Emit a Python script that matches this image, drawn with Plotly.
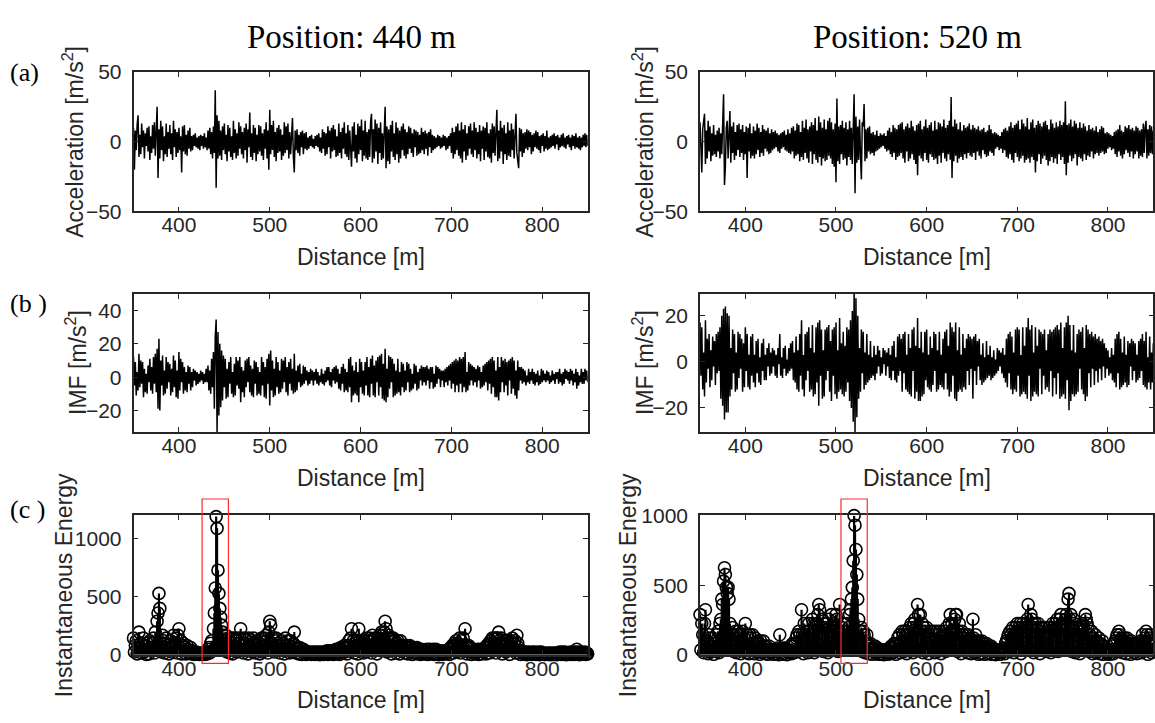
import numpy as np
import plotly.graph_objects as go
from plotly.subplots import make_subplots

# ---------------------------------------------------------------- data
positions = [440, 520]                       # inspected positions [m]
x_m = np.arange(350, 851, 1)                 # sample distance [m]

acc_440 = [
    10, -20, 8, -6, 12, 19, -11, 5, -9, 13, -4, 8, -12, 6, -3, 10, -7, 11, -13, 4,
    -8, 12, -5, 14, -10, 7, 25, -26, 9, -12, 15, -6, 11, -14, 4, -9, 13, -11, 7, -5,
    12, -9, 6, -13, 15, -4, 9, -11, 7, -8, 10, -6, 4, -22, 11, -7, 12, -9, 5, -10,
    8, -5, 10, -7, 4, -6, 5, -3, 6, -4, 3, -5, 4, -6, 5, -3, 4, -5, 6, -4,
    3, -6, 8, -5, 10, -9, 7, -12, 11, -8, 37, -33, 19, -12, 15, -10, 8, -13, 11, -6,
    13, -9, 5, -14, 12, -7, 10, -11, 4, -13, 15, -8, 9, -12, 6, -10, 14, -5, 11, -9,
    7, -12, 10, -6, 13, -15, 9, -4, 21, -11, 6, -13, 12, -8, 10, -14, 5, -9, 12, -7,
    11, -10, 6, -13, 9, -5, 14, -12, 8, -20, 23, -9, 12, -6, 15, -11, 7, -14, 10, -8,
    12, -7, 9, -13, 5, -10, 14, -8, 11, -6, 13, -12, 7, -9, 10, 17, -11, -22, 8, -6,
    9, -8, 5, -10, 7, -4, 8, -9, 6, -5, 7, -6, 3, -5, 4, -3, 5, -4, 2, -5,
    4, -3, 5, -4, 6, -7, 3, -8, 9, -5, 7, -10, 6, -9, 11, -4, 8, -12, 10, -7,
    12, -6, 9, -11, 4, -10, 13, -8, 7, -12, 10, -5, 14, -9, 6, -11, 12, -13, 8, -10,
    -18, 11, -7, 14, -12, 5, -15, 13, -9, 11, -6, 16, -14, 8, -10, 15, -12, 7, -13, 9,
    -11, 14, 20, -15, 9, -12, 16, -7, 13, -16, 10, -8, 14, -13, 6, -12, 15, 25, -19, 11,
    -14, 9, -16, 12, -7, 15, -11, 6, -13, 14, -9, 10, -15, 8, -12, 11, -6, 13, -10, 9,
    -12, 7, -9, 11, -5, 10, -8, 6, -11, 9, -4, 8, -10, 7, -9, 5, -8, 10, -6, 7,
    -9, 8, -5, 6, -10, 7, -4, 9, -8, 5, -6, 4, -5, 3, -4, 5, -3, 4, -5, 3,
    -4, 5, -3, 4, -6, 3, -5, 4, -3, 6, -8, 10, -12, 7, -9, 11, -6, 13, -10, 8,
    -12, 14, -15, 9, -7, 12, -13, 6, -10, 11, -5, 13, -9, 8, -11, 14, -6, 10, -12, 7,
    -9, 12, -14, 8, -5, 11, -13, 10, -7, 14, -11, 6, -12, 9, -15, 13, -8, 11, -10, 12,
    23, -14, 8, -12, 15, -7, 10, -16, 12, -9, 6, -13, 14, -10, 8, -11, 13, -6, 9, -12,
    11, 20, -8, -14, -19, 10, -7, 9, -11, 6, -8, 7, -5, 9, -6, 8, -4, 7, -9, 5,
    -7, 6, -4, 8, -5, 7, -6, 4, -8, 5, -3, 6, -7, 4, -5, 8, -6, 3, -5, 4,
    -4, 5, -3, 6, -5, 4, -2, 5, -6, 3, -4, 5, -3, 6, -4, 3, -5, 4, -2, 5,
    -4, 3, -6, 5, -3, 4, -5, 6, -4, 3, -5, 4, -6, 3, -4, 5, -3, 6, -4, 5,
    -3,
]

acc_520 = [
    14, -11, -22, 9, 13, 20, -16, 8, -12, 15, -7, 11, -14, 6, -10, 12, -9, 5, -11, 8,
    -7, 10, -12, 6, -9, 13, 34, -31, -18, 10, 15, -12, 9, 22, -15, 11, -8, 14, -13, 7,
    -10, 12, -6, 13, -11, 9, -8, 12, -13, 7, -9, 11, -26, 10, -7, 13, -12, 6, -10, 11,
    -12, 8, -9, 13, -6, 10, -11, 7, -8, 12, -10, 9, -5, 8, -7, 10, -9, 6, -8, 9,
    -6, 7, -5, 8, -4, 6, -7, 5, -8, 6, -5, 7, -4, 8, -6, 5, -7, 9, -8, 6,
    -9, 10, -7, 11, -12, 8, -10, 13, -9, 12, -14, 7, -11, 15, -13, 10, -8, 16, -12, 9,
    -15, 11, -7, 14, -16, 12, -9, 17, -13, 8, -15, 18, -11, 14, -17, 10, -12, 16, -14, 9,
    -13, 15, -10, 17, -12, 14, -16, 9, -18, 13, -29, 31, -14, 11, -16, 12, -9, 15, -13, 10,
    -12, 14, -17, 9, -11, 15, -13, 10, -16, 12, 34, -37, 18, -15, 11, -13, 16, -9, -27, 14,
    11, 27, -14, 9, -12, 10, -7, 11, -9, 6, -8, 7, -10, 5, -7, 8, -6, 4, -5, 6,
    -4, 5, -3, 6, -5, 4, -7, 8, -6, 10, -9, 7, -11, 12, -8, 10, -13, 9, -11, 12,
    -10, 13, -8, 14, -12, 9, -15, 11, -7, 13, -14, 10, -12, 15, -9, 11, -13, 8, -16, 12,
    -24, 13, -10, 15, -12, 9, -14, 11, -8, 16, -13, 10, -15, 12, -9, 14, -11, 8, -13, 15,
    -12, 9, -16, 14, -10, 13, -15, 11, -8, 16, -12, 10, -14, 12, -9, 15, -13, 32, -26, 11,
    -14, 16, -10, 13, -15, 9, -12, 14, -11, 8, -13, 12, -9, 10, -12, 11, -8, 13, -10, 9,
    -11, 12, -8, 10, -13, 9, -7, 11, -10, 8, -12, 9, -6, 10, -9, 7, -11, 8, -10, 12,
    -7, 9, -8, 6, -10, 7, -5, 6, -4, 5, -6, 4, -5, 7, -8, 9, -6, 10, -11, 8,
    -12, 11, -9, 14, -13, 10, -15, 12, -8, 13, -11, 15, -14, 9, -12, 16, -10, 13, -15, 11,
    -13, 17, -12, 9, -15, 14, -11, 16, -13, 10, -22, 12, -14, 15, -9, 13, -16, 11, -12, 14,
    -10, 15, -13, 12, -17, 9, -14, 16, -11, 13, -15, 10, -12, 14, -16, 11, -9, 15, -13, 12,
    -11, 14, -16, 29, -24, 12, -15, 13, -10, 16, -14, 11, -12, 15, -9, 13, -17, 10, -11, 14,
    -12, 10, -14, 13, -9, 11, -13, 8, -10, 12, -11, 9, -7, 10, -12, 8, -9, 11, -8, 7,
    -10, 9, -8, 11, -7, 10, -9, 6, -8, 7, -5, 6, -4, 5, -6, 4, -5, 7, -9, 8,
    -11, 9, -7, 12, -10, 8, -12, 7, -9, 11, -6, 10, -8, 12, -11, 9, -7, 10, -12, 8,
    -9, 11, -7, 10, -12, 8, -10, 9, -11, 13, -8, 10, 15, -12, 9, -10, 12, -8, 11, -9,
    8,
]

imf_440 = [
    12, -5, 9, -11, 3, -8, 14, -6, 10, -4, 9, -12, 5, -9, 2, -10, 7, -3, 11, -8,
    6, -10, 12, -4, 14, -9, 17, -19, 23, -20, 10, -5, 13, -11, 4, -10, 12, -7, 9, -3,
    8, -11, 5, -9, 13, -6, 10, -12, 4, -13, 15, -8, 11, -3, 9, -10, 6, -8, 3, -9,
    7, -4, 6, -8, 3, -6, 5, -2, 4, -5, 3, -4, 2, -3, 4, -2, 3, -4, 2, -3,
    5, -3, 7, -8, 4, -10, 11, -6, 15, -19, 24, 34.5, -33, 27, -23, 20, -18, 16, -14, 13,
    -6, 11, -13, 5, -12, 9, -4, 12, -10, 3, -12, 8, -11, 12, -5, 10, -7, 12, -15, 6,
    -9, 4, -12, 10, -6, 11, -3, 12, -9, 7, -11, 5, -12, 10, -4, 9, -11, 6, -10, 3,
    -11, 12, -5, 9, -12, 6, -13, 11, -4, 14, -17, 16, -8, 10, -12, 5, -11, 12, -6, 9,
    -10, 4, -9, 11, -7, 10, -3, 12, -9, 6, -11, 9, -4, 11, -8, 5, -10, 14, -9, 4,
    -8, 7, -3, 8, -6, 2, -5, 7, -4, 6, -2, 4, -5, 3, -4, 5, -2, 4, -5, 3,
    -2, 5, -4, 3, -5, 1, -3, 5, -4, 2, -5, 4, -3, 6, -2, 6, -5, 3, -6, 5,
    -2, 6, -4, 7, -3, 5, -7, 2, -8, 6, -4, 8, -9, 5, -8, 3, -9, 11, -6, 12,
    -15, 7, -11, 4, -10, 9, -11, 3, -15, 11, -6, 9, -10, 4, -11, 9, -5, 12, -11, 6,
    -12, 11, -4, 13, -11, 7, -12, 10, -3, 12, -11, 13, -6, 14, -13, 8, -14, 17, -15, 5,
    -12, 13, -7, 12, -3, 11, -12, 8, -11, 4, -10, 11, -9, 3, -11, 9, -6, 8, -9, 4,
    -8, 9, -3, 8, -9, 5, -8, 2, -7, 8, -4, 7, -8, 3, -7, 5, -2, 7, -5, 6,
    -3, 6, -5, 7, -2, 5, -7, 6, -3, 6, -7, 2, -6, 7, -4, 6, -1, 5, -6, 4,
    -2, 4, -6, 5, -3, 6, -5, 7, -2, 8, -7, 9, -4, 10, -9, 11, -5, 10, -9, 12,
    -4, 11, -9, 12, -6, 15, -9, 3, -8, 9, -5, 8, -2, 7, -5, 6, -3, 5, -6, 7,
    -2, 6, -7, 3, -6, 7, -5, 8, -3, 9, -8, 10, -4, 11, -10, 12, -6, 10, -12, 4,
    -12, 12, -14, 6, -9, 12, -3, 10, -9, 11, -5, 9, -11, 10, -2, 11, -10, 12, -7, 10,
    -11, 4, -13, 10, -8, 6, -2, 6, -4, 5, -3, 4, -5, 1, -3, 5, -4, 3, -2, 5,
    -4, 3, -5, 2, -3, 4, -5, 1, -4, 5, -3, 4, -2, 2, -3, 4, -2, 3, -4, 1,
    -3, 4, -2, 2, -4, 3, -1, 3, -4, 5, -3, 2, -5, 3, -4, 5, -1, 4, -2, 3,
    -4, 5, -2, 4, -5, 2, -3, 5, -7, 3, -5, 1, -3, 5, -4, 3, -4, 5, -2, 4,
    -3,
]

imf_520 = [
    17, -6, 15, -12, 4, -15, 18, -9, 10, -3, 12, -11, 5, -8, 11, -2, 9, -10, 12, -5,
    13, -4, 15, -16, 20, -19, 23, -25, 24, -22, 21, -22, 20, -15, 6, -12, 14, -5, 12, -13,
    4, -12, 13, -7, 12, -3, 10, -13, 8, -11, 15, -4, 12, -11, 3, -12, 11, -6, 12, -9,
    3, -11, 9, -5, 10, -9, 2, -10, 8, -4, 10, -8, 3, -8, 6, -2, 8, -6, 4, -5,
    6, -2, 5, -6, 3, -7, 6, -1, 12, -6, 2, -7, 6, -3, 7, -6, 1, -5, 6, -4,
    8, -3, 9, -8, 4, -9, 11, -12, 5, -13, 12, -6, 18, -12, 3, -15, 12, -8, 13, -4,
    15, -13, 6, -12, 16, -15, 4, -14, 15, -9, 17, -19, 18, -6, 14, -16, 5, -15, 14, -8,
    15, -4, 16, -13, 9, -17, 14, -6, 15, -14, 17, -16, 5, -13, 19, -12, 8, -14, 13, -15,
    7, -13, 15, -9, 14, -17, 18, -20, 22, -26, 31.6, -30.5, 27.5, -24, 20, -16, 6, -13, 14, -5,
    13, -12, 4, -10, 12, -9, 3, -8, 9, -7, 2, -6, 7, -8, 3, -5, 7, -2, 5, -6,
    2, -5, 6, -1, 5, -6, 4, -2, 6, -7, 3, -8, 7, -4, 9, -8, 2, -9, 11, -6,
    12, -4, 10, -13, 12, -5, 13, -12, 3, -13, 12, -14, 6, -15, 14, -4, 15, -16, 7, -13,
    19, -17, 6, -17, 13, -15, 4, -14, 13, -8, 14, -11, 3, -12, 11, -13, 6, -10, 13, -4,
    12, -13, 5, -12, 13, -10, 3, -11, 10, -12, 13, -5, 14, -12, 7, -15, 17, -13, 15, -6,
    13, -16, 17, -17, 5, -13, 15, -12, 3, -13, 12, -11, 6, -12, 10, -4, 12, -10, 11, -3,
    10, -16, 11, -4, 12, -10, 9, -2, 10, -8, 3, -10, 8, -9, 2, -8, 9, -7, 3, -6,
    7, -8, 2, -7, 5, -6, 1, -5, 6, -4, 5, -2, 4, -5, 6, -7, 3, -9, 10, -11,
    12, -5, 13, -12, 11, -14, 4, -12, 14, -13, 15, -6, 14, -15, 3, -14, 15, -13, 7, -14,
    15, -16, 19, -6, 14, -17, 16, -15, 4, -13, 15, -14, 7, -15, 14, -3, 13, -14, 12, -6,
    14, -12, 5, -11, 12, -13, 14, -4, 13, -15, 14, -7, 15, -14, 16, -5, 14, -16, 17, -15,
    6, -14, 15, -16, 17, -8, 20, -21, 16, -17, 5, -14, 16, -15, 4, -14, 12, -13, 14, -3,
    13, -12, 15, -14, 6, -17, 16, -15, 14, -5, 12, -11, 13, -3, 11, -10, 12, -4, 10, -9,
    11, -3, 9, -8, 10, -2, 8, -7, 6, -3, 5, -6, 2, -5, 6, -8, 3, -9, 10, -11,
    12, -5, 13, -12, 10, -11, 4, -10, 11, -9, 3, -11, 9, -10, 8, -2, 10, -8, 9, -4,
    8, -9, 3, -8, 9, -7, 10, -4, 12, -10, 9, -11, 13, -12, 2, -9, 11, -12, 4, -9,
    8,
]

assert len(acc_440) == len(acc_520) == len(imf_440) == len(imf_520) == len(x_m)

# instantaneous energy of each IMF sample
energy_440 = np.square(np.asarray(imf_440, dtype=float))
energy_520 = np.square(np.asarray(imf_520, dtype=float))

# ---------------------------------------------------------------- layout helpers
W, H = 1155, 723
AX = "#262626"
SANS = "Liberation Sans, Arial, sans-serif"
SERIF = "Liberation Serif, Times New Roman, serif"
X_RANGE = [350, 850]
BOX_HALF = 14.5          # half width of the highlight box [m]

col_px = [(133.5, 587.7), (700.0, 1153.3)]          # left/right plot edges
row_px = [(62, 206), (291, 434), (520, 664)]         # top/bottom plot edges


def hx(px):
    return px / W


def vy(px):
    return 1 - px / H


fig = make_subplots(rows=3, cols=2)

columns = [
    (acc_440, imf_440, energy_440),
    (acc_520, imf_520, energy_520),
]

for c, (acc, imf, energy) in enumerate(columns, start=1):
    fig.add_trace(go.Scatter(x=x_m, y=acc, mode="lines",
                             line=dict(color="black", width=1.5)), row=1, col=c)
    fig.add_trace(go.Scatter(x=x_m, y=imf, mode="lines",
                             line=dict(color="black", width=1.5)), row=2, col=c)
    # stems from the baseline up to each energy value
    sx, sy = [], []
    for xv, ev in zip(x_m, energy):
        sx += [xv, xv, None]
        sy += [0, ev, None]
    fig.add_trace(go.Scatter(x=sx, y=sy, mode="lines",
                             line=dict(color="black", width=2.2)), row=3, col=c)
    fig.add_trace(go.Scatter(x=x_m, y=energy, mode="markers", cliponaxis=False,
                             marker=dict(symbol="circle-open", size=12,
                                         color="black", line=dict(width=1.6))),
                  row=3, col=c)

y_ranges = {
    (1, 1): ([-50, 50], [-50, 0, 50]),
    (1, 2): ([-50, 50], [-50, 0, 50]),
    (2, 1): ([-33, 50], [-20, 0, 20, 40]),
    (2, 2): ([-30.5, 29.5], [-20, 0, 20]),
    (3, 1): ([0, 1200], [0, 500, 1000]),
    (3, 2): ([0, 1000], [0, 500, 1000]),
}

axis_style = dict(showline=True, linecolor=AX, linewidth=1.6, mirror="ticks",
                  ticks="inside", ticklen=5, tickwidth=1.3, tickcolor=AX,
                  showgrid=False, zeroline=False,
                  tickfont=dict(family=SANS, size=21, color=AX))

for r in range(1, 4):
    for c in range(1, 3):
        n = (r - 1) * 2 + c
        sfx = "" if n == 1 else str(n)
        x0, x1 = col_px[c - 1]
        top, bot = row_px[r - 1]
        yr, yt = y_ranges[(r, c)]
        fig.layout["xaxis" + sfx].update(domain=[hx(x0), hx(x1)], range=X_RANGE,
                                         tickvals=[400, 500, 600, 700, 800],
                                         ticklabelstandoff=-6, **axis_style)
        fig.layout["yaxis" + sfx].update(domain=[vy(bot), vy(top)], range=yr,
                                         tickvals=yt, ticklabelstandoff=6,
                                         **axis_style)

annotations = []


def text(x, y, s, size, family=SANS, color=AX, angle=0, xanchor="center"):
    annotations.append(dict(x=hx(x), y=vy(y), xref="paper", yref="paper", text=s,
                            showarrow=False, textangle=angle, xanchor=xanchor,
                            yanchor="middle",
                            font=dict(family=family, size=size, color=color)))


# column titles
text(351.5, 26, f"Position: {positions[0]} m", 33, SERIF, "black")
text(917.5, 26, f"Position: {positions[1]} m", 33, SERIF, "black")

# panel letters
text(8, 62, "(a)", 26, SERIF, "black", xanchor="left")
text(8, 301, "(b )", 26, SERIF, "black", xanchor="left")
text(8, 514, "(c )", 26, SERIF, "black", xanchor="left")

# axis titles
for c in range(2):
    x0, x1 = col_px[c]
    xc = (x0 + x1) / 2
    for top, bot in row_px:
        text(xc, bot + 47, "Distance [m]", 23)
ylab = [
    [(73, "Acceleration [m/s<sup>2</sup>]"), (76, "IMF [m/s<sup>2</sup>]"),
     (64, "Instantaneous Energy")],
    [(643, "Acceleration [m/s<sup>2</sup>]"), (643, "IMF [m/s<sup>2</sup>]"),
     (628, "Instantaneous Energy")],
]
for c in range(2):
    for r, (xp, s) in enumerate(ylab[c]):
        top, bot = row_px[r]
        text(xp, (top + bot) / 2, s, 23, angle=-90)

shapes = []
for c, pos in enumerate(positions):
    xa = "x5" if c == 0 else "x6"
    ya = "y5" if c == 0 else "y6"
    # stem baseline
    shapes.append(dict(type="line", xref=xa, yref=ya, x0=X_RANGE[0], x1=X_RANGE[1],
                       y0=0, y1=0, layer="above",
                       line=dict(color="#5f5f5f", width=2)))
    # highlight box around the inspected position
    shapes.append(dict(type="rect", xref=xa, yref="paper",
                       x0=pos - BOX_HALF, x1=pos + BOX_HALF,
                       y0=vy(672.7), y1=vy(503),
                       layer="above", line=dict(color="#ff2a2a", width=1.2)))

fig.update_layout(width=W, height=H, margin=dict(l=0, r=0, t=0, b=0),
                  paper_bgcolor="white", plot_bgcolor="white", showlegend=False,
                  annotations=annotations, shapes=shapes)

fig.write_html("out.html")
